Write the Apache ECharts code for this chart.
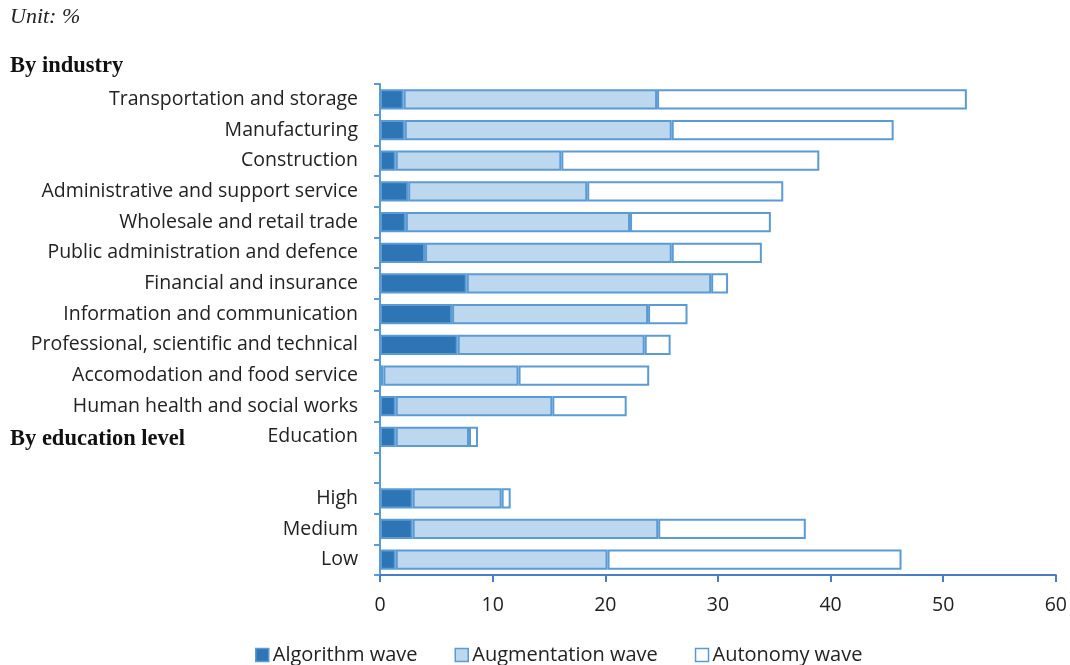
<!DOCTYPE html>
<html>
<head>
<meta charset="utf-8">
<script src="https://cdn.jsdelivr.net/npm/echarts@6/dist/echarts.min.js"></script>
<style>
  html, body { margin: 0; padding: 0; background: #fff; }
  #chart { width: 1070px; height: 665px; }
</style>
</head>
<body>
<div id="chart"></div>
<script>
// Categories, top to bottom; the empty entry separates industries from education levels
const categories = [
  'Transportation and storage',
  'Manufacturing',
  'Construction',
  'Administrative and support service',
  'Wholesale and retail trade',
  'Public administration and defence',
  'Financial and insurance',
  'Information and communication',
  'Professional, scientific and technical',
  'Accomodation and food service',
  'Human health and social works',
  'Education',
  '',
  'High',
  'Medium',
  'Low'
];

// Share of employment exposed in each wave (%)
const algorithmWave    = [2.1, 2.2, 1.4, 2.5, 2.3, 4.0, 7.7, 6.4, 6.9, 0.3, 1.4, 1.4, null, 2.9, 2.9, 1.4];
const augmentationWave = [22.5, 23.7, 14.7, 15.9, 19.9, 21.9, 21.7, 17.4, 16.6, 12.0, 13.9, 6.5, null, 7.9, 21.8, 18.8];
const autonomyWave     = [27.5, 19.7, 22.9, 17.4, 12.5, 8.0, 1.5, 3.5, 2.3, 11.6, 6.6, 0.8, null, 0.8, 13.1, 26.1];

const xTicks = { min: 0, max: 60, interval: 10 };

const edge = '#5b9bd5';
const labelFont = '"Open Sans", sans-serif';
const serif = '"Liberation Serif", "DejaVu Serif", serif';

function waveSeries(name, data, fill) {
  return {
    name: name,
    type: 'bar',
    stack: 'waves',
    data: data,
    barCategoryGap: '34%',
    itemStyle: { color: fill, borderColor: edge, borderWidth: 2 },
    emphasis: { disabled: true }
  };
}

const chart = echarts.init(document.getElementById('chart'), null, { renderer: 'canvas' });
chart.setOption({
  animation: false,
  backgroundColor: '#ffffff',
  grid: { left: 380, right: 13, top: 84, bottom: 90, containLabel: false },
  xAxis: {
    type: 'value',
    min: xTicks.min,
    max: xTicks.max,
    interval: xTicks.interval,
    splitLine: { show: false },
    axisLine: { show: true, lineStyle: { color: '#4a7cc9', width: 2 } },
    axisTick: { show: true, length: 7, lineStyle: { color: '#4a7cc9', width: 2 } },
    axisLabel: { color: '#222', fontSize: 19.5, fontFamily: labelFont, margin: 20 }
  },
  yAxis: {
    type: 'category',
    data: categories,
    inverse: true,
    axisLine: { show: true, lineStyle: { color: edge, width: 2 } },
    axisTick: { show: true, length: 6, alignWithLabel: false, lineStyle: { color: edge, width: 2 } },
    axisLabel: { color: '#222', fontSize: 19.5, fontFamily: labelFont, margin: 22, interval: 0 }
  },
  legend: {
    top: 640,
    left: 250,
    itemWidth: 13,
    itemHeight: 13,
    itemGap: 37,
    icon: 'rect',
    textStyle: { color: '#222', fontSize: 20, fontFamily: labelFont, padding: [0, 0, 0, -1] },
    data: [
      { name: 'Algorithm wave', itemStyle: { color: '#2e75b6', borderColor: edge, borderWidth: 1.5 } },
      { name: 'Augmentation wave', itemStyle: { color: '#bdd7ee', borderColor: edge, borderWidth: 1.5 } },
      { name: 'Autonomy wave', itemStyle: { color: '#ffffff', borderColor: edge, borderWidth: 1.5 } }
    ]
  },
  graphic: [
    { type: 'text', left: 10, top: 6, style: { text: 'Unit: %', font: 'italic 22px ' + serif, fill: '#222' } },
    { type: 'text', left: 10, top: 55, style: { text: 'By industry', font: 'bold 22.5px ' + serif, fill: '#111' } },
    { type: 'text', left: 10, top: 428, style: { text: 'By education level', font: 'bold 22.5px ' + serif, fill: '#111' } }
  ],
  series: [
    waveSeries('Algorithm wave', algorithmWave, '#2e75b6'),
    waveSeries('Augmentation wave', augmentationWave, '#bdd7ee'),
    waveSeries('Autonomy wave', autonomyWave, '#ffffff')
  ]
});
</script>
</body>
</html>
